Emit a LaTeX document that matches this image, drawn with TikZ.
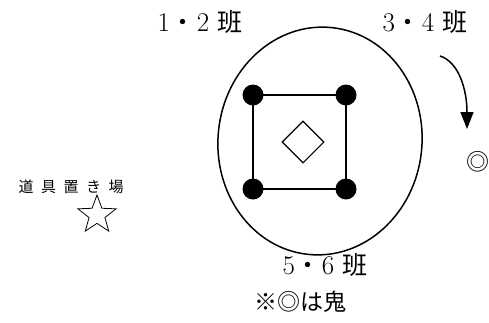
\documentclass[tikz,border=0pt]{standalone}
\usepackage{fontspec}
\newfontfamily\jp{Noto Sans CJK JP}
\usetikzlibrary{positioning, arrows.meta, shapes.geometric}
\tikzset{
  grouplabel/.style={
    font=\fontsize{25}{27}\selectfont, inner sep=0pt
  },
  notelabel/.style={
    font=\fontsize{23}{25}\selectfont, inner sep=0pt
  },
  basedot/.style={
    circle, fill=black, minimum size=21pt, inner sep=0pt
  },
  mound/.style={
    diamond, draw, line width=1.1pt, minimum size=42pt, inner sep=0pt
  },
  toolstar/.style={
    star, star points=5, star point ratio=2.4, draw, line width=0.8pt,
    minimum size=40pt, inner sep=0pt
  },
  runarrow/.style={
    -{Triangle[length=17pt, width=13pt]}, line width=1.5pt
  },
}

\begin{document}
\begin{tikzpicture}[x=1pt, y=-1pt]
  \useasboundingbox (0,0) rectangle (489,322);

  % Field
  \draw[line width=1.5pt, rotate around={-6:(320,141)}]
        (320,141) ellipse [x radius=102, y radius=114];

  % Bases
  \node[basedot] (base1) at (253,95)  {};
  \node[basedot] (base2) at (346,95)  {};
  \node[basedot] (base3) at (253,189) {};
  \node[basedot] (base4) at (346,189) {};
  \draw[line width=1.4pt] (base1.center) -- (base2.center) -- (base4.center)
        -- (base3.center) -- cycle;
  \node[mound] (pitch) at (303,142) {};

  % Groups
  \node[grouplabel] (g12) at (200,22)  {\fontsize{27}{29}\selectfont 1\hspace{1pt}{\jp\fontsize{25}{27}\selectfont ・}\hspace{1pt}2 {\jp\fontsize{25}{27}\selectfont 班}};
  \node[grouplabel] (g34) at (425,22)  {\fontsize{27}{29}\selectfont 3\hspace{1pt}{\jp\fontsize{25}{27}\selectfont ・}\hspace{1pt}4 {\jp\fontsize{25}{27}\selectfont 班}};
  \node[grouplabel] (g56) at (325,265) {\fontsize{27}{29}\selectfont 5\hspace{1pt}{\jp\fontsize{25}{27}\selectfont ・}\hspace{1pt}6 {\jp\fontsize{25}{27}\selectfont 班}};

  % Oni
  \node[notelabel] (oni) at (478,162) {\jp ◎};
  \coordinate (runS) at (440,56);
  \coordinate (runE) at (467,129);
  \draw[runarrow] (runS) .. controls (459,62) and (467,90) .. (runE);

  % Tools
  \node[font=\fontsize{15}{17}\selectfont, inner sep=0pt] (tools) at (71,187)
        {\jp\addfontfeatures{LetterSpace=50}道具置き場};
  \node[toolstar] (star) at (97,215) {};

  % Note
  \node[notelabel] (note) at (300,302) {\jp ※◎は鬼};
\end{tikzpicture}
\end{document}
